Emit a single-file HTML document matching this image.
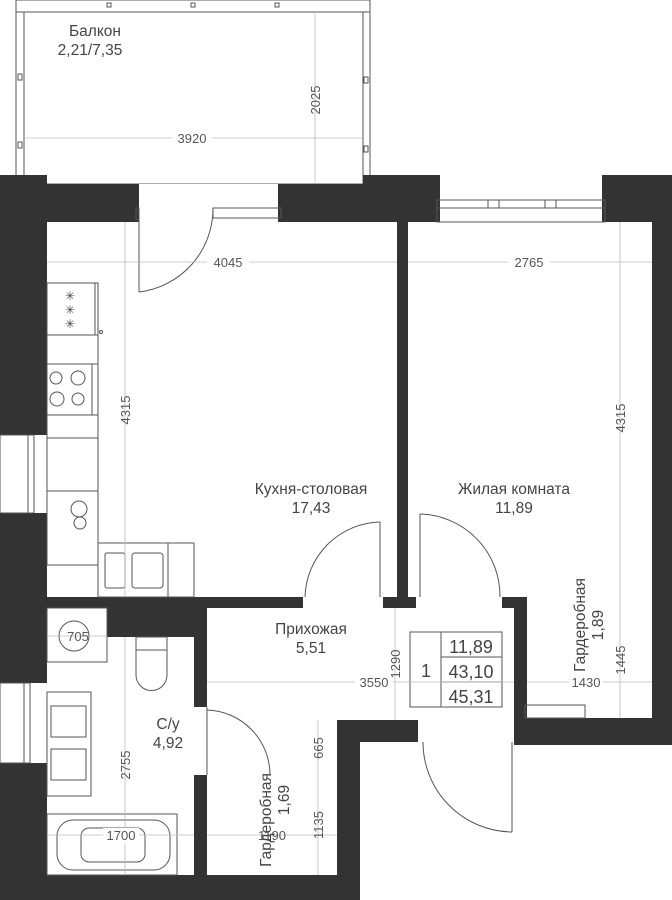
<!DOCTYPE html>
<html><head><meta charset="utf-8"><style>
html,body{margin:0;padding:0;background:#fff;}
svg{display:block;}
text{font-family:"Liberation Sans",sans-serif;fill:#444;}
.l{font-size:15.5px;text-anchor:middle;}
.d{font-size:13px;text-anchor:middle;fill:#555;}
.w{fill:#333;}
.t{stroke:#555;stroke-width:1;fill:none;}
.dm{stroke:#bbb;stroke-width:0.8;fill:none;}
</style></head><body>
<svg width="672" height="900" viewBox="0 0 672 900" xmlns="http://www.w3.org/2000/svg">
<!-- balcony -->
<rect x="16" y="0" width="354" height="12" class="t"/>
<line x1="16" y1="0" x2="16" y2="175" class="t"/>
<line x1="24" y1="12" x2="24" y2="184" class="t"/>
<line x1="363" y1="12" x2="363" y2="184" class="t"/>
<line x1="370" y1="0" x2="370" y2="175" class="t"/>
<line x1="24" y1="184" x2="363" y2="184" class="t"/>
<g class="t"><rect x="107" y="3" width="4" height="4"/><rect x="191" y="3" width="4" height="4"/><rect x="275" y="3" width="4" height="4"/>
<rect x="18" y="74" width="4" height="6"/><rect x="18" y="142" width="4" height="6"/><rect x="364" y="77" width="4" height="6"/><rect x="364" y="146" width="4" height="6"/></g>

<!-- walls -->
<g class="w">
<rect x="0" y="175" width="24" height="47"/>
<rect x="24" y="184" width="115" height="38"/>
<rect x="278" y="184" width="85" height="38"/>
<rect x="363" y="175" width="77" height="47"/>
<rect x="602" y="175" width="70" height="47"/>
<rect x="0" y="175" width="47" height="260"/>
<rect x="0" y="513" width="47" height="170"/>
<rect x="0" y="763" width="47" height="137"/>
<rect x="652" y="175" width="20" height="570"/>
<rect x="397" y="222" width="11" height="380"/>
<rect x="47" y="597" width="256" height="11"/>
<rect x="383" y="597" width="33" height="11"/>
<rect x="502" y="597" width="25" height="11"/>
<rect x="514" y="597" width="13" height="145"/>
<rect x="514" y="718" width="158" height="27"/>
<rect x="107" y="608" width="100" height="29"/>
<rect x="194" y="608" width="13" height="99"/>
<rect x="194" y="775" width="13" height="100"/>
<rect x="0" y="875" width="360" height="25"/>
<rect x="337" y="720" width="23" height="180"/>
<rect x="337" y="720" width="81" height="22"/>
</g>
<!-- windows -->
<rect x="139" y="184" width="139" height="24" fill="#fff"/>
<rect x="437" y="200" width="168" height="8" class="t"/>
<rect x="437" y="208" width="168" height="14" class="t"/>
<g class="t"><line x1="488" y1="200" x2="488" y2="208"/><line x1="499" y1="200" x2="499" y2="208"/><line x1="545" y1="200" x2="545" y2="208"/><line x1="556" y1="200" x2="556" y2="208"/></g>
<rect x="0" y="435" width="28" height="78" fill="#fff" class="t"/>
<rect x="28" y="435" width="6" height="78" class="t"/>
<rect x="0" y="683" width="24" height="80" fill="#fff" class="t"/>
<rect x="24" y="683" width="6" height="80" class="t"/>

<!-- doors -->
<g class="t">
<rect x="136" y="208" width="3" height="12"/>
<line x1="139" y1="208" x2="139" y2="292"/>
<path d="M139 292 A84 84 0 0 0 213 208"/>
<rect x="213" y="208" width="68" height="10"/>
<line x1="380" y1="522" x2="380" y2="597"/>
<path d="M380 522 A77 77 0 0 0 305 597"/>
<line x1="420" y1="514" x2="420" y2="597"/>
<path d="M420 514 A82 82 0 0 1 500 597"/>
<line x1="207" y1="707" x2="207" y2="775"/>
<path d="M207 710 A65 65 0 0 1 270 775"/>
<line x1="512" y1="742" x2="512" y2="832"/>
<path d="M423 742 A90 90 0 0 0 512 832"/>
<rect x="525" y="705" width="60" height="13"/>
</g>

<!-- kitchen furniture -->
<g class="t">
<rect x="47" y="283" width="51" height="52"/><line x1="95" y1="283" x2="95" y2="335"/>
<rect x="47" y="335" width="51" height="230"/>
<line x1="47" y1="364" x2="98" y2="364"/><line x1="47" y1="415" x2="98" y2="415"/>
<line x1="47" y1="438" x2="98" y2="438"/><line x1="47" y1="491" x2="98" y2="491"/>
<line x1="92" y1="364" x2="92" y2="415"/>
<circle cx="56" cy="378" r="6"/><circle cx="78" cy="378" r="7"/><circle cx="57" cy="399" r="7"/><circle cx="78" cy="399" r="6"/>
<circle cx="79" cy="509" r="8"/><circle cx="80" cy="523" r="6"/>
<rect x="98" y="543" width="96" height="54"/><line x1="168" y1="543" x2="168" y2="597"/>
<rect x="105" y="553" width="20" height="35" rx="2"/><rect x="132" y="553" width="31" height="35" rx="3"/>
<circle cx="101" cy="332" r="1.5"/>
</g>
<text x="70" y="300" font-size="12" text-anchor="middle">✳</text>
<text x="70" y="314" font-size="12" text-anchor="middle">✳</text>
<text x="70" y="328" font-size="12" text-anchor="middle">✳</text>

<!-- bathroom fixtures -->
<g class="t">
<rect x="47" y="608" width="60" height="54"/><circle cx="74" cy="636" r="15"/>
<rect x="136" y="637" width="31" height="13"/>
<path d="M136 650 L167 650 L167 675 A15 15 0 0 1 136 675 Z"/>
<rect x="47" y="692" width="44" height="104"/>
<rect x="51" y="706" width="35" height="31"/><rect x="51" y="749" width="35" height="31"/>
<rect x="47" y="814" width="130" height="61"/>
<rect x="57" y="820" width="113" height="50" rx="16"/>
<rect x="81" y="828" width="64" height="34" rx="8"/>
</g>

<!-- summary table -->
<g class="t">
<rect x="410" y="632" width="92" height="75"/>
<line x1="441" y1="632" x2="441" y2="707"/>
<line x1="441" y1="657" x2="502" y2="657"/>
<line x1="441" y1="682" x2="502" y2="682"/>
</g>
<text x="426" y="677" font-size="18" text-anchor="middle">1</text>
<text x="471" y="653" font-size="18" text-anchor="middle">11,89</text>
<text x="471" y="678" font-size="18" text-anchor="middle">43,10</text>
<text x="471" y="703" font-size="18" text-anchor="middle">45,31</text>

<!-- dimension lines -->
<g class="dm">
<line x1="24" y1="138" x2="363" y2="138"/>
<line x1="315" y1="12" x2="315" y2="184"/>
<line x1="47" y1="262" x2="397" y2="262"/>
<line x1="125" y1="222" x2="125" y2="597"/>
<line x1="408" y1="262" x2="652" y2="262"/>
<line x1="620" y1="222" x2="620" y2="718"/>
<line x1="527" y1="682" x2="652" y2="682"/>
<line x1="207" y1="682" x2="514" y2="682"/>
<line x1="395" y1="608" x2="395" y2="720"/>
<line x1="318" y1="720" x2="318" y2="875"/>
<line x1="207" y1="835" x2="337" y2="835"/>
<line x1="47" y1="835" x2="194" y2="835"/>
<line x1="125" y1="637" x2="125" y2="875"/>
<line x1="47" y1="636" x2="107" y2="636"/>
</g>
<rect x="172" y="130" width="40" height="15" fill="#fff"/>
<text class="d" x="192" y="143">3920</text>
<text class="d" transform="translate(320,100) rotate(-90)">2025</text>
<rect x="207" y="255" width="42" height="15" fill="#fff"/>
<text class="d" x="228" y="267">4045</text>
<text class="d" transform="translate(130,410) rotate(-90)">4315</text>
<rect x="508" y="255" width="42" height="15" fill="#fff"/>
<text class="d" x="529" y="267">2765</text>
<text class="d" transform="translate(625,418) rotate(-90)">4315</text>
<text class="d" transform="translate(625,660) rotate(-90)">1445</text>
<rect x="569" y="675" width="34" height="15" fill="#fff"/>
<text class="d" x="586" y="687">1430</text>
<rect x="355" y="675" width="38" height="15" fill="#fff"/>
<text class="d" x="374" y="687">3550</text>
<text class="d" transform="translate(400,664) rotate(-90)">1290</text>
<text class="d" transform="translate(323,748) rotate(-90)">665</text>
<text class="d" transform="translate(323,825) rotate(-90)">1135</text>
<text class="d" x="272" y="840">1190</text>
<rect x="103" y="828" width="36" height="15" fill="#fff"/>
<text class="d" x="121" y="840">1700</text>
<text class="d" transform="translate(130,765) rotate(-90)">2755</text>
<text class="d" x="78" y="641">705</text>

<!-- room labels -->
<text class="l" x="95" y="36">Балкон</text>
<text class="l" x="90" y="55">2,21/7,35</text>
<text class="l" x="311" y="494">Кухня-столовая</text>
<text class="l" x="311" y="513">17,43</text>
<text class="l" x="514" y="494">Жилая комната</text>
<text class="l" x="514" y="513">11,89</text>
<text class="l" x="311" y="634">Прихожая</text>
<text class="l" x="311" y="653">5,51</text>
<text class="l" x="168" y="729">С/у</text>
<text class="l" x="168" y="748">4,92</text>
<text class="l" transform="translate(585,625) rotate(-90)">Гардеробная</text>
<text class="l" transform="translate(603,625) rotate(-90)">1,89</text>
<text class="l" transform="translate(271,820) rotate(-90)">Гардеробная</text>
<text class="l" transform="translate(289,800) rotate(-90)">1,69</text>
</svg>
</body></html>
